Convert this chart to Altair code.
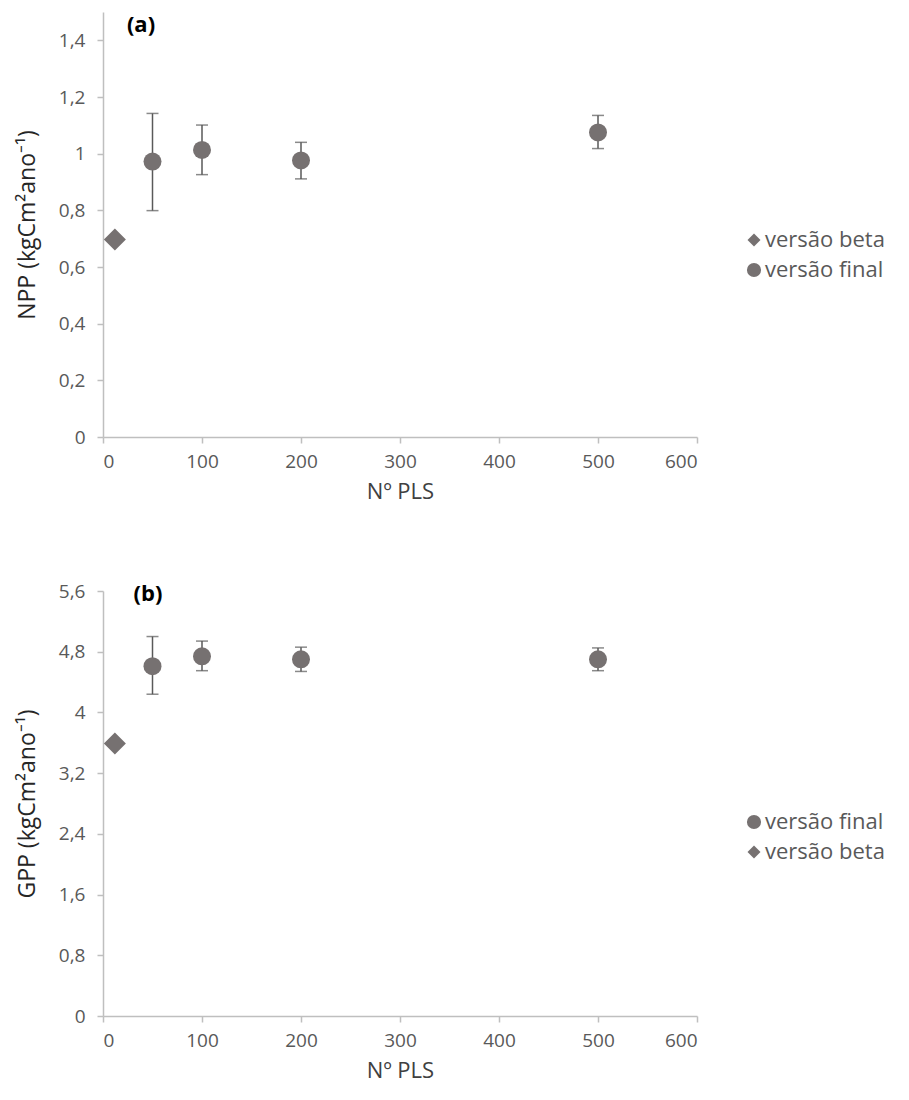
import altair as alt
import pandas as pd

# ---- data ----
pls = [50, 100, 200, 500]
beta_pls = [12]

npp_final = [0.972, 1.013, 0.976, 1.075]
npp_lo = [0.799, 0.926, 0.911, 1.018]
npp_hi = [1.142, 1.101, 1.040, 1.135]
npp_beta = [0.697]

gpp_final = [4.61, 4.74, 4.70, 4.70]
gpp_lo = [4.24, 4.55, 4.54, 4.55]
gpp_hi = [5.00, 4.94, 4.86, 4.85]
gpp_beta = [3.59]

x_ticks = [0, 100, 200, 300, 400, 500, 600]
npp_ticks = [0, 0.2, 0.4, 0.6, 0.8, 1, 1.2, 1.4]
gpp_ticks = [0, 0.8, 1.6, 2.4, 3.2, 4, 4.8, 5.6]

FINAL = "versão final"
BETA = "versão beta"

FONT = "Open Sans"
MARK = "#767171"
ERR = "#595959"
AXIS = "#bfbfbf"
LABEL = "#595959"

W, H = 594, 425


def shape_scale(order):
    return alt.Scale(domain=order,
                     range=["diamond" if s == BETA else "circle" for s in order])


def panel(final, lo, hi, beta, ymax, yticks, ytitle, tag, order, leg_y, tag_x, tag_y):
    pts = pd.DataFrame({
        "x": pls + beta_pls,
        "y": final + beta,
        "serie": [FINAL] * len(pls) + [BETA] * len(beta_pls),
    })
    err = pd.DataFrame({"x": pls, "lo": lo, "hi": hi})
    caps = pd.DataFrame({"x": pls + pls, "y": lo + hi})
    tagdf = pd.DataFrame({"t": [tag]})
    legdf = pd.DataFrame({"serie": order,
                          "sz": [170 if s == BETA else 200 for s in order]})

    xenc = alt.X("x:Q",
                 scale=alt.Scale(domain=[0, 600], nice=False, zero=False),
                 axis=alt.Axis(values=x_ticks, title="Nº PLS", grid=False,
                               tickSize=6, labelPadding=9, titlePadding=10,
                               labelFontSize=19, titleFontSize=22,
                               titleFontWeight="normal", titleColor="#404040",
                               labelColor=LABEL, labelFont=FONT, titleFont=FONT,
                               domainColor=AXIS, tickColor=AXIS,
                               domainWidth=1.5, tickWidth=1.5))
    yscale = alt.Scale(domain=[0, ymax], nice=False, zero=True)
    yaxis = alt.Axis(values=yticks, title=ytitle, grid=False,
                     tickSize=6, labelPadding=12, titlePadding=19,
                     labelFontSize=19, titleFontSize=23,
                     titleFontWeight="normal", titleColor="#262626",
                     labelColor=LABEL, labelFont=FONT, titleFont=FONT,
                     domainColor=AXIS, tickColor=AXIS,
                     domainWidth=1.5, tickWidth=1.5,
                     labelExpr="replace(toString(datum.value), '.', ',')")

    rules = alt.Chart(err).mark_rule(color=ERR, strokeWidth=1.5).encode(
        x=xenc,
        y=alt.Y("lo:Q", scale=yscale, axis=yaxis),
        y2="hi:Q",
    )
    capmarks = alt.Chart(caps).mark_tick(
        color=ERR, orient="horizontal", size=12, thickness=1.5
    ).encode(x="x:Q", y="y:Q")

    points = alt.Chart(pts).mark_point(filled=True, opacity=1, color=MARK).encode(
        x="x:Q",
        y="y:Q",
        shape=alt.Shape("serie:N", scale=shape_scale(order), legend=None),
        size=alt.Size("serie:N",
                      scale=alt.Scale(domain=[BETA, FINAL], range=[484, 324]),
                      legend=None),
    )

    label = alt.Chart(tagdf).mark_text(
        fontWeight="bold", fontSize=22, font=FONT, color="#000000",
        align="center", baseline="middle"
    ).encode(x=alt.value(tag_x), y=alt.value(tag_y), text="t:N")

    data_layer = alt.layer(rules, capmarks, points, label)

    # legend drawn through its own point scale (pixel range inside the panel)
    legy = alt.Y("serie:N",
                 scale=alt.Scale(type="point", domain=order,
                                 range=[leg_y, leg_y + 30], padding=0),
                 axis=None)
    leg_sym = alt.Chart(legdf).mark_point(filled=True, opacity=1, color=MARK).encode(
        x=alt.value(651),
        y=legy,
        shape=alt.Shape("serie:N", scale=shape_scale(order), legend=None),
        size=alt.Size("sz:Q", scale=None, legend=None),
    )
    leg_txt = alt.Chart(legdf).mark_text(
        align="left", baseline="middle", fontSize=22, font=FONT, color=LABEL
    ).encode(x=alt.value(662), y=legy, text="serie:N")
    legend_layer = alt.layer(leg_sym, leg_txt)

    return alt.layer(data_layer, legend_layer).resolve_scale(
        y="independent", size="independent"
    ).properties(width=W, height=H)


top = panel(npp_final, npp_lo, npp_hi, npp_beta, 1.5, npp_ticks,
            "NPP (kgCm²ano⁻¹)", "(a)", [BETA, FINAL], 228, 38, 13)
bottom = panel(gpp_final, gpp_lo, gpp_hi, gpp_beta, 5.6, gpp_ticks,
               "GPP (kgCm²ano⁻¹)", "(b)", [FINAL, BETA], 231, 45, 3)

chart = alt.vconcat(top, bottom, spacing=80).resolve_scale(
    x="independent", y="independent", shape="independent", size="independent"
).properties(
    padding={"left": 8, "top": 4, "right": 0, "bottom": 5},
    background="white",
).configure_view(strokeWidth=0)

chart.save("out.html", embed_options={"renderer": "svg", "actions": False})
